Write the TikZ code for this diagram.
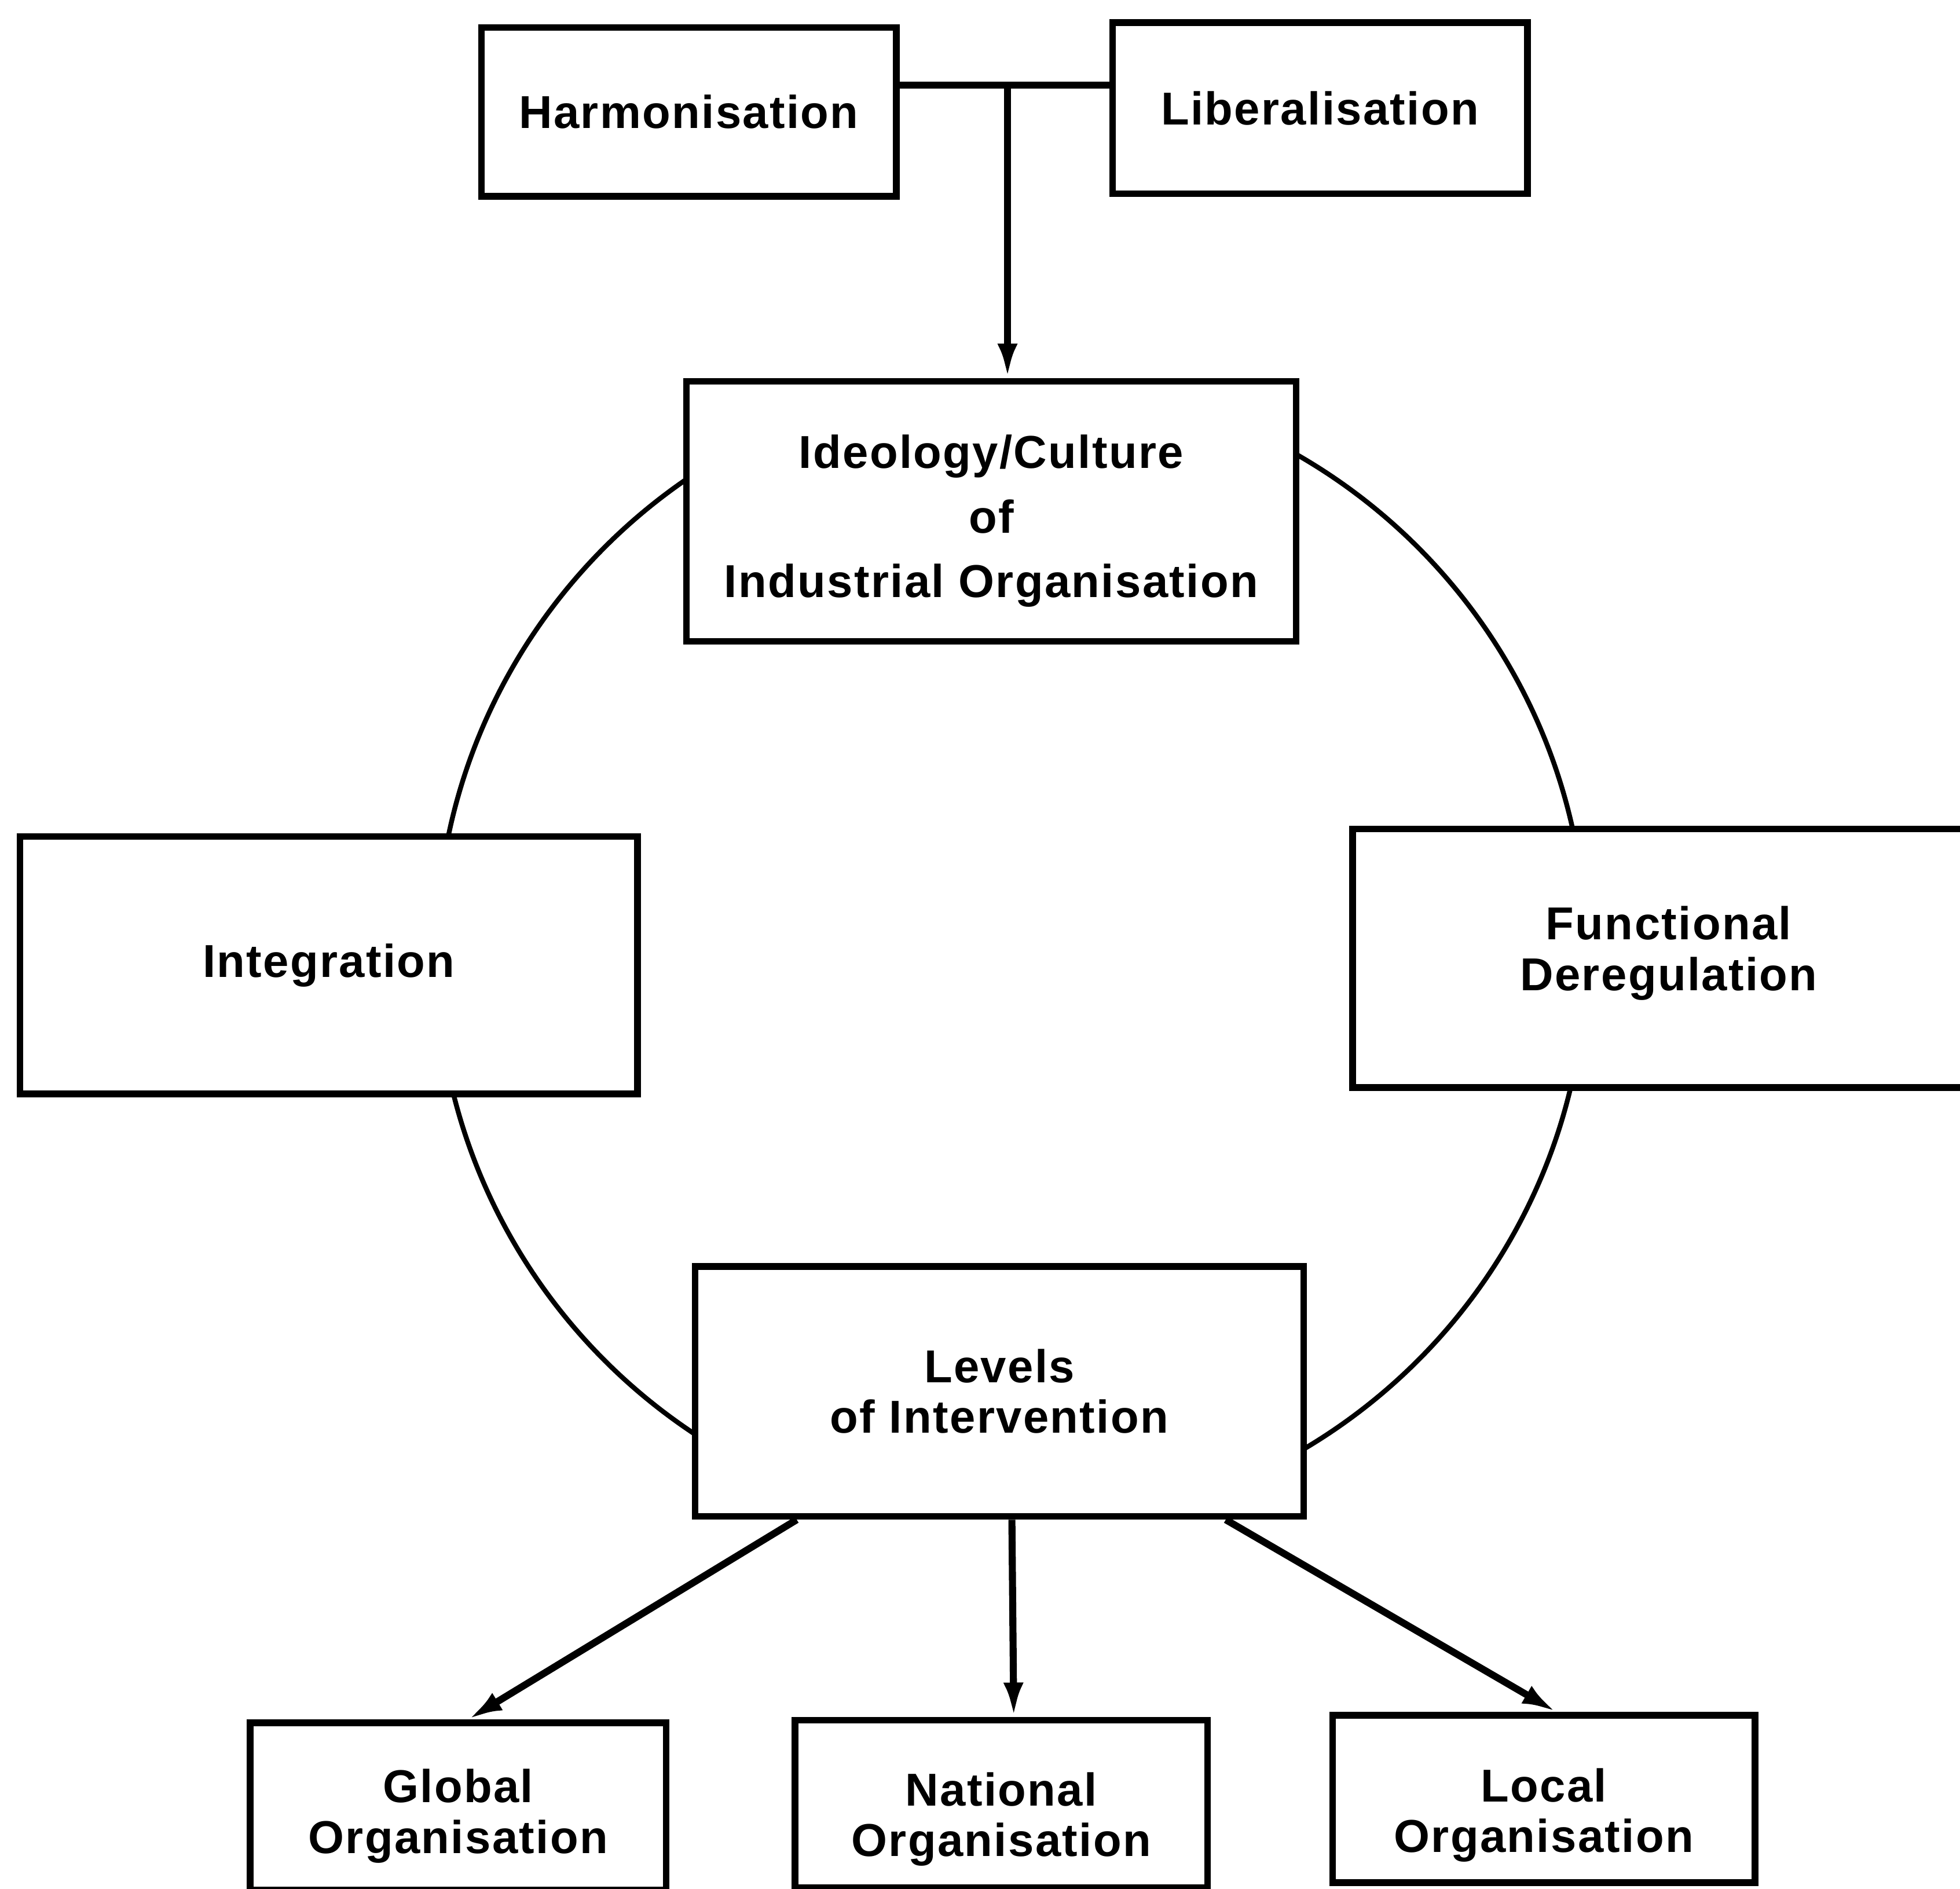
\documentclass[tikz,border=0pt]{standalone}
\usepackage{fontspec}
\setmainfont{Liberation Sans}[LetterSpace=3]
\usetikzlibrary{calc}
\usetikzlibrary{arrows.meta}

\tikzset{
  box/.style={draw,line width=3pt,fill=white,align=center,inner sep=0pt,
    font=\bfseries\fontsize{21}{23}\selectfont},
  conn/.style={line width=3.2pt},
  ring/.style={line width=2.2pt}
}

\begin{document}
\begin{tikzpicture}[>={Latex[length=5.5mm,width=3.2mm]},x=0.02cm,y=-0.02cm]
                        \useasboundingbox (0,0) rectangle (1568,1511);
                        \clip (0,0) rectangle (1568,1511);
                        % the ring behind the boxes
                        \begin{scope}
                            \clip (0,305) rectangle (1568,1213);
                            \draw[ring] (809,763) circle (460);
                        \end{scope}
                        \node[box,minimum width=6.64cm,minimum height=2.7cm] (harm) at (551,89.5) {Harmonisation};
                        \node[box,minimum width=6.64cm,minimum height=2.74cm] (lib) at (1056,86.5) {Liberalisation};
                        \node[box,minimum width=9.76cm,minimum height=4.16cm,text height=83pt,
                            font=\bfseries\fontsize{21}{29.5}\selectfont] (ideo) at (793,409)
                            {Ideology/Culture\\of\\Industrial Organisation};
                        \node[box,minimum width=9.88cm,minimum height=4.12cm] (integ) at (263,772) {Integration};
                        \node[box,minimum width=10.12cm,minimum height=4.14cm,text height=33.7pt] (func) at (1335,766.5)
                            {Functional\\Deregulation};
                        \node[box,minimum width=9.74cm,minimum height=4cm] (lev) at (799.5,1113)
                            {Levels\\of Intervention};
                        \node[box,minimum width=6.66cm,minimum height=2.68cm,text height=47pt] (glob) at (366.5,1445)
                            {Global\\Organisation};
                        \node[box,minimum width=6.6cm,minimum height=2.68cm,text height=52pt] (nat) at (801,1443)
                            {National\\Organisation};
                        \node[box,minimum width=6.76cm,minimum height=2.68cm,text height=53pt] (loc) at (1235,1439)
                            {Local\\Organisation};
                        % connectors
                        \coordinate (tee) at (806,68);
                        \draw[conn] (harm.east |- tee) -- (lib.west |- tee);
                        \draw[conn,->] (tee) -- (tee |- ideo.north);
                        \draw[conn,->] ($(lev.south west)+(84,0)$) -- ($(glob.north)+(8,0)$);
                        \draw[conn,->] ($(lev.south)+(10,0)$) -- ($(nat.north)+(10,0)$);
                        \draw[conn,->] ($(lev.south east)+(-65,0)$) -- ($(loc.north)+(10,0)$);
                    \end{tikzpicture}
\end{document}
